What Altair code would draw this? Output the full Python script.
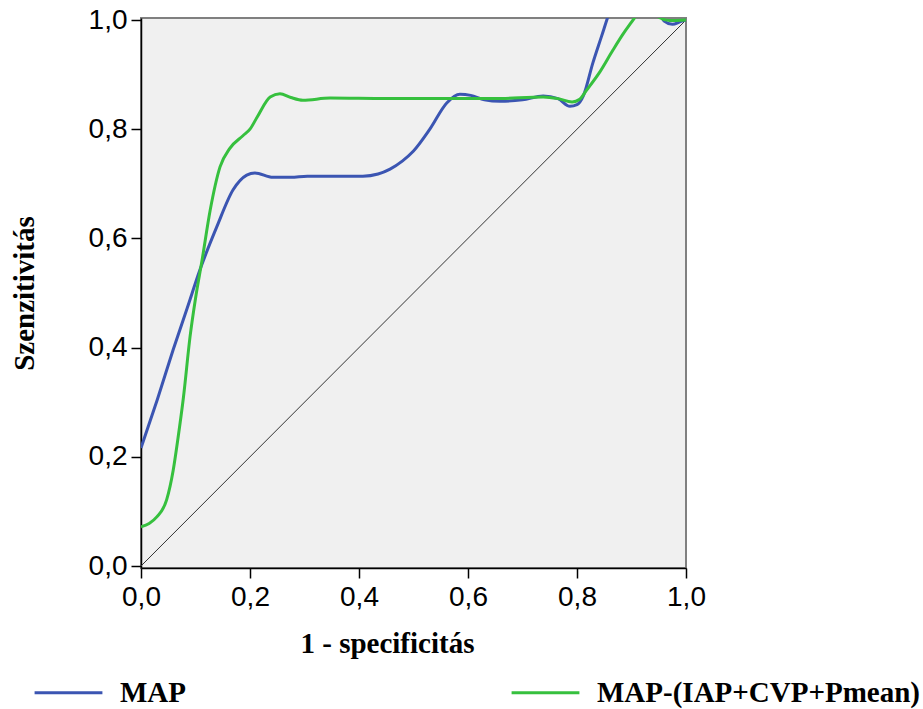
import altair as alt
import pandas as pd

# ROC curve points
map_x = [0.0, 0.03, 0.059, 0.085, 0.108, 0.139, 0.169, 0.194, 0.209, 0.242, 0.275, 0.305,
         0.36, 0.407, 0.435, 0.457, 0.48, 0.5, 0.53, 0.561, 0.585, 0.605, 0.63, 0.659,
         0.7, 0.738, 0.765, 0.787, 0.8, 0.812, 0.829, 0.845, 0.858, 0.88, 0.92, 0.945,
         0.96, 0.975, 0.99, 1.0]
map_y = [0.216, 0.305, 0.396, 0.473, 0.542, 0.621, 0.689, 0.716, 0.72, 0.712, 0.712, 0.714,
         0.714, 0.714, 0.718, 0.727, 0.742, 0.76, 0.80, 0.848, 0.864, 0.862, 0.854, 0.851,
         0.854, 0.861, 0.856, 0.842, 0.845, 0.862, 0.921, 0.97, 1.01, 1.07, 1.08, 1.03,
         0.998, 0.992, 0.997, 1.0]

comb_x = [0.0, 0.015, 0.029, 0.047, 0.059, 0.068, 0.078, 0.09, 0.1, 0.112, 0.127, 0.145,
          0.163, 0.187, 0.2, 0.213, 0.237, 0.255, 0.275, 0.297, 0.347, 0.45, 0.55, 0.65,
          0.738, 0.765, 0.791, 0.805, 0.818, 0.842, 0.866, 0.885, 0.9, 0.91, 0.93, 0.95,
          0.97, 1.0]
comb_y = [0.072, 0.078, 0.09, 0.121, 0.175, 0.235, 0.31, 0.42, 0.49, 0.56, 0.652, 0.731,
          0.765, 0.788, 0.80, 0.822, 0.859, 0.865, 0.858, 0.853, 0.857, 0.856, 0.856, 0.856,
          0.859, 0.856, 0.85, 0.855, 0.872, 0.905, 0.945, 0.975, 0.996, 1.01, 1.03, 1.005,
          0.999, 1.0]

series_names = ["MAP", "MAP-(IAP+CVP+Pmean)"]
series_colors = ["#3b55b2", "#36c03e"]

ref_x = [0.0, 1.0]
ref_y = [0.0, 1.0]
tick_values = [0.0, 0.2, 0.4, 0.6, 0.8, 1.0]

curves = pd.concat([
    pd.DataFrame({"x": map_x, "y": map_y, "s": series_names[0], "o": range(len(map_x))}),
    pd.DataFrame({"x": comb_x, "y": comb_y, "s": series_names[1], "o": range(len(comb_x))}),
])
ref = pd.DataFrame({"x": ref_x, "y": ref_y})

label_expr = "replace(format(datum.value, '.1f'), '.', ',')"

xscale = alt.Scale(domain=[0, 1], nice=False, zero=False)
yscale = alt.Scale(domain=[-2 / 546, 1 + 2 / 546], nice=False, zero=False)

xaxis = alt.Axis(values=tick_values, labelExpr=label_expr, title="1 - specificitás",
                 titleX=159, titleY=84, titleAlign="left", titleBaseline="alphabetic",
                 labelPadding=5, labelFlush=False)
yaxis = alt.Axis(values=tick_values, labelExpr=label_expr, title="Szenzitivitás",
                 titleX=-108, titleBaseline="alphabetic", labelPadding=4, labelFlush=False)

diag = alt.Chart(ref).mark_line(color="#333333", strokeWidth=1, clip=True).encode(
    x=alt.X("x:Q", scale=xscale, axis=xaxis),
    y=alt.Y("y:Q", scale=yscale, axis=yaxis),
)

lines = alt.Chart(curves).mark_line(strokeWidth=3, interpolate="monotone", clip=True).encode(
    x=alt.X("x:Q", scale=xscale),
    y=alt.Y("y:Q", scale=yscale),
    order="o:Q",
    color=alt.Color("s:N", title=None,
                    scale=alt.Scale(domain=series_names, range=series_colors),
                    legend=alt.Legend(orient="none", legendX=-108, legendY=639,
                                      columns=2, columnPadding=318,
                                      symbolType="stroke", symbolSize=4600,
                                      symbolStrokeWidth=3, labelOffset=16,
                                      labelFont="Liberation Serif", labelFontWeight="bold",
                                      labelFontSize=29, labelLimit=600, labelColor="#000000")),
)

chart = alt.layer(diag, lines).properties(
    width=545, height=550,
    padding={"left": 141, "top": 18, "right": 237, "bottom": 141},
    autosize="none",
    background="white",
).configure_view(
    fill="#f0f0f0", stroke="#808080", strokeWidth=2,
).configure_axis(
    grid=False,
    domainColor="#000000", domainWidth=1.5,
    tickColor="#000000", tickWidth=1.5, tickSize=10,
    labelFont="Liberation Sans", labelFontSize=28, labelColor="#000000",
    titleFont="Liberation Serif", titleFontWeight="bold", titleFontSize=29, titleColor="#000000",
)

chart.save("out.html", embed_options={"renderer": "svg", "actions": False})
